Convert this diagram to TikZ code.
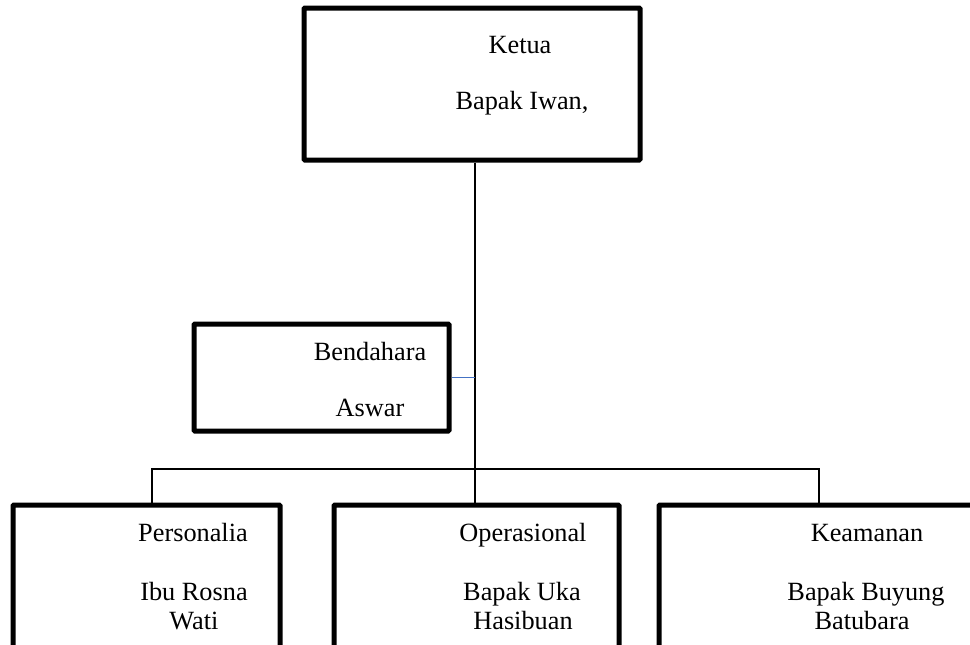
\documentclass[tikz,border=0pt]{standalone}
\usepackage{fontspec}
\setmainfont{Liberation Serif}
\begin{document}
\begin{tikzpicture}[x=1pt,y=-1pt,
  box/.style={draw=black,line width=5pt,rectangle,inner sep=0pt,rounded corners=1pt},
  lbl/.style={anchor=base,inner sep=0pt,font=\fontsize{26.3}{21}\selectfont},
  conn/.style={draw=black,line width=2pt},
  blueconn/.style={draw=bluelink,line width=1.8pt}]
\definecolor{bluelink}{RGB}{68,114,196}
\useasboundingbox (0,0) rectangle (970,645);
\clip (0,0) rectangle (970,645);
% boxes
\node[box,minimum width=336pt,minimum height=152pt] (ketua) at (472,84) {};
\node[box,minimum width=255pt,minimum height=107pt] (bend) at (321.5,377.5) {};
\node[box,minimum width=267pt,minimum height=175pt] (pers) at (146.5,592.5) {};
\node[box,minimum width=285pt,minimum height=175pt] (opr) at (476.5,592.5) {};
\node[box,minimum width=341pt,minimum height=175pt] (kea) at (829.5,592.5) {};
% texts
\node[lbl] (t1) at (520,53) {Ketua};
\node[lbl] (t2) at (522,109) {Bapak Iwan,};
\node[lbl] (t3) at (370,360) {Bendahara};
\node[lbl] (t4) at (370,416) {Aswar};
\node[lbl] (t5) at (193,541) {Personalia};
\node[lbl] (t6) at (194,600) {Ibu Rosna};
\node[lbl] (t7) at (194,629) {Wati};
\node[lbl] (t8) at (523,541) {Operasional};
\node[lbl] (t9) at (522,600) {Bapak Uka};
\node[lbl] (t10) at (523,629) {Hasibuan};
\node[lbl] (t11) at (867,541) {Keamanan};
\node[lbl] (t12) at (866,600) {Bapak Buyung};
\node[lbl] (t13) at (862,629) {Batubara};
% connectors
\coordinate (trunk) at (474.5,469);
\coordinate (busL) at (152,469);
\coordinate (busR) at (819,469);
\draw[conn] (trunk |- ketua.south) -- (trunk |- opr.north);
\draw[conn] (busL |- pers.north) -- (busL) -- (busR) -- (busR |- kea.north);
\draw[blueconn] (bend.east) -- (bend.east -| trunk);
\end{tikzpicture}
\end{document}
